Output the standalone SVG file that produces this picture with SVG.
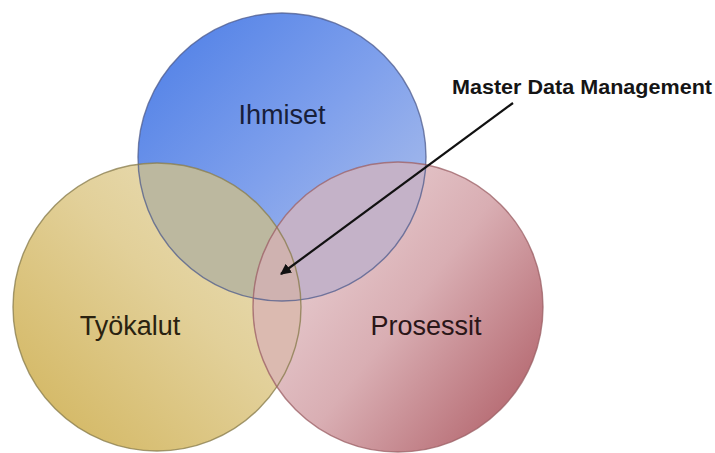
<svg xmlns="http://www.w3.org/2000/svg" width="715" height="453" viewBox="0 0 715 453">
<style>
.lbl{font-family:"Liberation Sans",Arial,sans-serif;font-size:27px;text-anchor:middle}
.edge{fill:none;stroke-width:1.4;stroke-opacity:0.75}
</style>
<defs>
<linearGradient id="gB" x1="0" y1="0" x2="1" y2="1">
<stop offset="0" stop-color="#4a7ce6"/>
<stop offset="0.5" stop-color="#7fa0ec"/>
<stop offset="1" stop-color="#b7c6ea"/>
</linearGradient>
<linearGradient id="gY" x1="0" y1="1" x2="1" y2="0">
<stop offset="0" stop-color="#d1b359"/>
<stop offset="0.55" stop-color="#e2d099"/>
<stop offset="1" stop-color="#ebe2c2"/>
</linearGradient>
<linearGradient id="gR" x1="0.05" y1="0.2" x2="0.95" y2="0.9">
<stop offset="0" stop-color="#ebd5d8"/>
<stop offset="0.5" stop-color="#d9aeb3"/>
<stop offset="1" stop-color="#b2636b"/>
</linearGradient>
<clipPath id="cB"><circle cx="282" cy="157" r="144"/></clipPath>
<clipPath id="cY"><circle cx="157" cy="307" r="144"/></clipPath>
<marker id="ah" viewBox="0 0 10 10" refX="9" refY="5" markerWidth="5" markerHeight="5" orient="auto" markerUnits="strokeWidth">
<path d="M0,0 L10,5 L0,10 z" fill="#111"/>
</marker>
</defs>
<g id="ihmiset">
<circle cx="282" cy="157" r="144" fill="url(#gB)"/>
<text class="lbl" x="282" y="124" fill="#18203a">Ihmiset</text>
</g>
<g id="tyokalut">
<circle cx="157" cy="307" r="144" fill="url(#gY)"/>
<text class="lbl" x="130" y="335" fill="#2a2210">Työkalut</text>
</g>
<g id="prosessit">
<circle cx="398" cy="307" r="145" fill="url(#gR)"/>
<text class="lbl" x="426" y="335" fill="#2a1618">Prosessit</text>
</g>
<g id="overlaps">
<circle cx="157" cy="307" r="144" fill="#bcb89f" clip-path="url(#cB)"/>
<circle cx="398" cy="307" r="145" fill="#c4b2c8" clip-path="url(#cB)"/>
<circle cx="398" cy="307" r="145" fill="#dbbab0" clip-path="url(#cY)"/>
<g clip-path="url(#cB)"><circle cx="398" cy="307" r="145" fill="#cfb2b0" clip-path="url(#cY)"/></g>
</g>
<g id="outlines">
<circle class="edge" cx="282" cy="157" r="144" stroke="#4d5b8c"/>
<circle class="edge" cx="157" cy="307" r="144" stroke="#857a4a"/>
<circle class="edge" cx="398" cy="307" r="145" stroke="#9a5d63"/>
</g>
<g id="mdm">
<text x="452" y="94" font-family="'Liberation Sans',Arial,sans-serif" font-weight="bold" font-size="21" fill="#151515" textLength="260" lengthAdjust="spacingAndGlyphs">Master Data Management</text>
</g>
<g id="connectors">
<line x1="513" y1="103" x2="281" y2="274" stroke="#111" stroke-width="2.2" marker-end="url(#ah)"/>
</g>
</svg>
